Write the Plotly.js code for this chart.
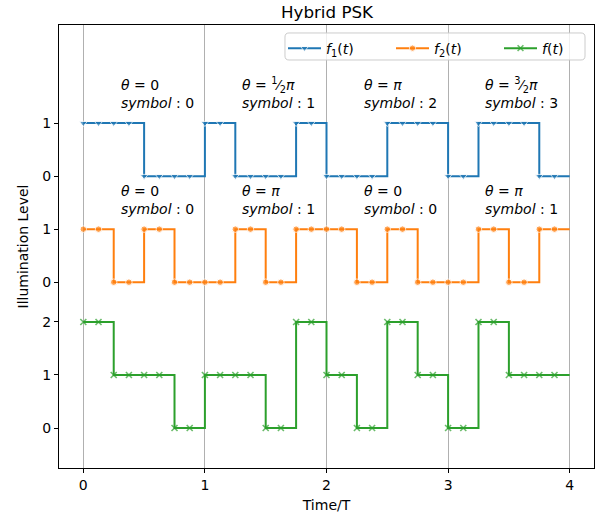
<!DOCTYPE html>
<html>
<head>
<meta charset="utf-8">
<script src="https://cdn.plot.ly/plotly-3.0.1.min.js"></script>
<style>html,body{margin:0;padding:0;background:#fff}#chart{width:600px;height:520px}</style>
</head>
<body>
<div id="chart"></div>
<script>
// Sample times (units of T), last point closes the final step
const t = [0,0.125,0.25,0.375,0.5,0.625,0.75,0.875,
           1,1.125,1.25,1.375,1.5,1.625,1.75,1.875,
           2,2.125,2.25,2.375,2.5,2.625,2.75,2.875,
           3,3.125,3.25,3.375,3.5,3.625,3.75,3.875,4];
// f1(t): symbols 0,1,2,3
const f1 = [1,1,1,1,0,0,0,0,
            1,1,0,0,0,0,1,1,
            0,0,0,0,1,1,1,1,
            0,0,1,1,1,1,0,0,0];
// f2(t)
const f2 = [1,1,0,0,1,1,0,0,
            0,0,1,1,0,0,1,1,
            1,1,0,0,1,1,0,0,
            0,0,1,1,0,0,1,1,1];
// f(t) = combined level
const f = [2,2,1,1,1,1,0,0,
           1,1,1,1,0,0,2,2,
           1,1,0,0,2,2,1,1,
           0,0,2,2,1,1,1,1,1];
// vertical offsets of the stacked traces
const offF1 = 4.75, offF2 = 2.75, offF = 0;
const yTickVals = [0,1,2,2.75,3.75,4.75,5.75];
const yTickText = ['0','1','2','0','1','0','1'];
const xTickVals = [0,1,2,3,4];
const thetaTop = ['0','<sup>1</sup>\u2044<sub>2</sub><i>\u03c0</i>','<i>\u03c0</i>','<sup>3</sup>\u2044<sub>2</sub><i>\u03c0</i>'];
const symTop = ['0','1','2','3'];
const thetaBot = ['0','<i>\u03c0</i>','0','<i>\u03c0</i>'];
const symBot = ['0','1','0','1'];

const FONT = 'DejaVu Sans, sans-serif';
const sizes = (n) => t.map((v,i) => i < t.length-1 ? n : 0);

const traces = [
  {x:t, y:f1.map(v=>v+offF1), name:'<i>f</i><sub>1</sub>(<i>t</i>)', mode:'lines+markers',
   line:{shape:'hv', color:'#1f77b4', width:2},
   marker:{symbol:'triangle-down', size:sizes(7), color:'#1f77b4'}},
  {x:t, y:f2.map(v=>v+offF2), name:'<i>f</i><sub>2</sub>(<i>t</i>)', mode:'lines+markers',
   line:{shape:'hv', color:'#ff7f0e', width:2},
   marker:{symbol:'circle', size:sizes(6.5), color:'#ff7f0e'}},
  {x:t, y:f.map(v=>v+offF), name:'<i>f</i>(<i>t</i>)', mode:'lines+markers',
   line:{shape:'hv', color:'#2ca02c', width:2},
   marker:{symbol:'x-thin', size:sizes(6), color:'#2ca02c', line:{color:'#2ca02c', width:1.6}}}
];

const annotations = [];
for (let i = 0; i < 4; i++) {
  annotations.push({x:i+0.29, y:5.95, xref:'x', yref:'y', xanchor:'left', yanchor:'bottom', align:'left',
    showarrow:false, font:{family:FONT, size:14, color:'#000'},
    text:'<i>\u03b8</i> = '+thetaTop[i]+'<br><i>symbol</i> : '+symTop[i]});
  annotations.push({x:i+0.29, y:3.95, xref:'x', yref:'y', xanchor:'left', yanchor:'bottom', align:'left',
    showarrow:false, font:{family:FONT, size:14, color:'#000'},
    text:'<i>\u03b8</i> = '+thetaBot[i]+'<br><i>symbol</i> : '+symBot[i]});
}

// legend frame (rounded, matplotlib style) drawn as a paper-referenced shape
const L = 0.4224, R = 0.9832, T = 0.982, B = 0.921, rx = 0.0075, ry = 0.009;
const legendFrame = {
  type:'path', xref:'paper', yref:'paper', layer:'above',
  path:`M ${L+rx},${B} L ${R-rx},${B} Q ${R},${B} ${R},${B+ry} L ${R},${T-ry} Q ${R},${T} ${R-rx},${T} ` +
       `L ${L+rx},${T} Q ${L},${T} ${L},${T-ry} L ${L},${B+ry} Q ${L},${B} ${L+rx},${B} Z`,
  line:{color:'#cccccc', width:1}, fillcolor:'rgba(255,255,255,0.8)'
};

const layout = {
  width:600, height:520,
  margin:{l:59, r:6, t:25, b:52, pad:0, autoexpand:false},
  paper_bgcolor:'#fff', plot_bgcolor:'#fff',
  font:{family:FONT, size:14, color:'#000'},
  title:{text:'Hybrid PSK', font:{family:FONT, size:16.7, color:'#000'}, x:0.545, xanchor:'center', y:0.977, yanchor:'middle', yref:'container'},
  xaxis:{range:[-0.2,4.2], tickvals:xTickVals, ticktext:xTickVals.map(String),
    showgrid:true, gridcolor:'#b0b0b0', gridwidth:1, zeroline:false,
    showline:true, mirror:true, linecolor:'#000', linewidth:1,
    ticks:'outside', ticklen:4, tickwidth:1, tickcolor:'#000',
    tickfont:{family:FONT, size:14, color:'#000'},
    title:{text:'Time/T', font:{family:FONT, size:14, color:'#000'}, standoff:8}},
  yaxis:{range:[-0.754,7.6], tickvals:yTickVals, ticktext:yTickText,
    showgrid:false, zeroline:false,
    showline:true, mirror:true, linecolor:'#000', linewidth:1,
    ticks:'outside', ticklen:4, tickwidth:1, tickcolor:'#000',
    tickfont:{family:FONT, size:14, color:'#000'},
    title:{text:'Illumination Level', font:{family:FONT, size:14, color:'#000'}, standoff:10}},
  showlegend:true,
  legend:{orientation:'h', x:0.4187, xanchor:'left', y:0.983, yanchor:'top',
    bgcolor:'rgba(0,0,0,0)', borderwidth:0,
    font:{family:FONT, size:14, color:'#000'}, itemwidth:33, entrywidth:60, entrywidthmode:'pixels'},
  shapes:[legendFrame],
  annotations:annotations
};

Plotly.newPlot('chart', traces, layout, {displayModeBar:false, staticPlot:true});
</script>
</body>
</html>
